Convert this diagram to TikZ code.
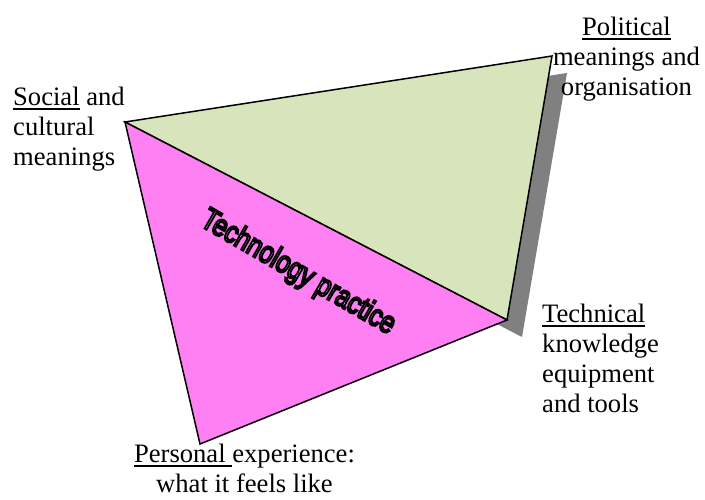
\documentclass[tikz,border=0pt]{standalone}
\usepackage{fontspec}
\setmainfont{Liberation Serif}
\newfontfamily\outlinefont[FakeBold=7]{Liberation Sans}
\definecolor{greenface}{RGB}{215,228,188}
\definecolor{pinkface}{RGB}{255,128,242}
\definecolor{shadowgray}{RGB}{128,128,128}
\newcommand\ulword[1]{\setbox0=\hbox{#1}\rlap{\rule[-4pt]{\wd0}{1.6pt}}\box0\relax}
\newcommand\blackstroke{\special{pdf:literal direct 0 G}}
\tikzset{
  face/.style={draw=black, line width=1.5pt},
  corner/.style={font=\fontsize{26.6}{30}\selectfont, align=left, inner sep=0pt},
  practice/.style={font=\outlinefont\fontsize{31}{36}\selectfont, rotate=-30, inner sep=0pt}
}
\begin{document}
\begin{tikzpicture}[x=1pt,y=-1pt]
  \useasboundingbox (0,0) rectangle (705,499);
  % corners of the two faces
  \coordinate (soc) at (125,122);
  \coordinate (pol) at (552,56);
  \coordinate (tec) at (507,320);
  \coordinate (per) at (200,444);
  % shadow behind the green face
  \fill[shadowgray] ([shift={(15,17)}]soc) -- ([shift={(15,17)}]pol) -- ([shift={(15,17)}]tec) -- cycle;
  \filldraw[face, fill=greenface] (soc) -- (pol) -- (tec) -- cycle;
  \filldraw[face, fill=pinkface] (soc) -- (tec) -- (per) -- cycle;
  % outlined title
  \node[practice, text=white] (practice) at (298,273) {\blackstroke\scalebox{0.8}[1]{Technology practice}};
  % corner labels
  \node[corner, anchor=north west] (social) at (13,87) {\ulword{Social} and\\cultural\\meanings};
  \node[corner, align=center, anchor=north] (political) at (626.5,17) {\ulword{Political}\\meanings and\\organisation};
  \node[corner, anchor=north west] (technical) at (542,304) {\ulword{Technical}\\knowledge\\equipment\\and tools};
  \node[corner, align=center, anchor=north] (personal) at (244.5,444) {\ulword{Personal\ }experience:\\what it feels like};
\end{tikzpicture}
\end{document}
